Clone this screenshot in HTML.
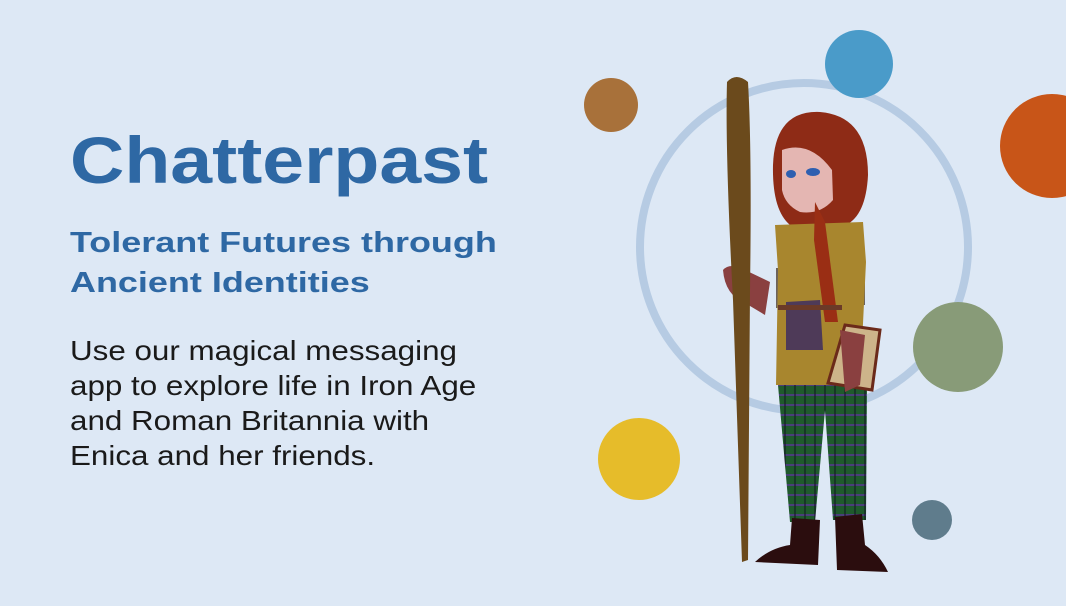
<!DOCTYPE html>
<html><head><meta charset="utf-8"><style>
html,body{margin:0;padding:0}
body{width:1066px;height:606px;background:#dde8f5;position:relative;overflow:hidden;font-family:"Liberation Sans",sans-serif}
.t{position:absolute;left:70px;margin:0;color:#2e68a4;white-space:nowrap;transform-origin:0 0}
#title{top:122px;font-size:66px;font-weight:bold;transform:scaleX(1.14)}
#sub{top:223px;font-size:29px;font-weight:bold;line-height:40px;transform:scaleX(1.24)}
#body{top:333px;font-size:28px;line-height:35px;color:#1a1a1a;transform:scaleX(1.12)}
svg{position:absolute;left:0;top:0}
</style></head><body>
<svg width="1066" height="606">
<defs>
<pattern id="plaid" width="10" height="10" patternUnits="userSpaceOnUse">
<rect width="10" height="10" fill="#1f5a2c"/>
<line x1="0" y1="5" x2="10" y2="5" stroke="#4a3f7a" stroke-width="2"/>
<line x1="5" y1="0" x2="5" y2="10" stroke="#112" stroke-width="1"/>
</pattern>
</defs>
<circle cx="804" cy="247" r="164" fill="none" stroke="#b6cbe3" stroke-width="8"/>
<circle cx="611" cy="105" r="27" fill="#a8713a"/>
<circle cx="859" cy="64" r="34" fill="#4a9bc9"/>
<circle cx="1052" cy="146" r="52" fill="#c85518"/>
<circle cx="958" cy="347" r="45" fill="#889b78"/>
<circle cx="639" cy="459" r="41" fill="#e6bc2a"/>
<circle cx="932" cy="520" r="20" fill="#5f7c8c"/>
<g>
<path d="M773 165 Q775 110 820 112 Q868 116 868 175 Q866 215 846 225 L790 225 Q772 210 773 165Z" fill="#8e2b16"/>
<rect x="776" y="268" width="13" height="40" fill="#6b625c"/>
<rect x="847" y="262" width="18" height="43" fill="#6b625c"/>
<path d="M775 225 L863 222 L866 262 L860 385 L776 385 L778 270Z" fill="#a8862e"/>
<path d="M778 385 L867 385 L866 520 L833 520 L825 410 L815 522 L790 522Z" fill="url(#plaid)"/>
<path d="M782 150 Q810 140 832 170 L833 200 Q820 215 800 212 Q785 205 782 190Z" fill="#e4b6b2"/>
<ellipse cx="791" cy="174" rx="5" ry="4" fill="#2e5fb0"/>
<ellipse cx="813" cy="172" rx="7" ry="4" fill="#2e5fb0"/>
<path d="M815 202 L825 222 L838 322 L825 322 L814 240Z" fill="#9a2e14"/>
<path d="M786 302 L820 300 L823 350 L786 350Z" fill="#4e3a58"/>
<rect x="778" y="305" width="64" height="5" fill="#6b3a28"/>
<path d="M845 325 L880 330 L872 390 L828 383Z" fill="#cdb48a" stroke="#6b2a1a" stroke-width="3"/>
<path d="M840 330 L865 335 L860 385 L845 392Z" fill="#8a4040"/>
<path d="M723 270 Q730 262 745 270 L770 282 L765 315 L745 303 Q725 295 723 270Z" fill="#8a4040"/>
<path d="M727 82 Q736 72 748 82 Q752 150 750 290 L748 560 L742 562 L733 300 Q725 150 727 82Z" fill="#6b4a1c"/>
<path d="M755 562 Q770 548 790 545 L792 518 L820 520 L818 565 Z" fill="#2b0d0e"/>
<path d="M835 517 L862 514 L865 545 Q880 555 888 572 L837 570Z" fill="#2b0d0e"/>
</g>
</svg>
<h1 id="title" class="t">Chatterpast</h1>
<h2 id="sub" class="t">Tolerant Futures through<br>Ancient Identities</h2>
<p id="body" class="t">Use our magical messaging<br>app to explore life in Iron Age<br>and Roman Britannia with<br>Enica and her friends.</p>
</body></html>
